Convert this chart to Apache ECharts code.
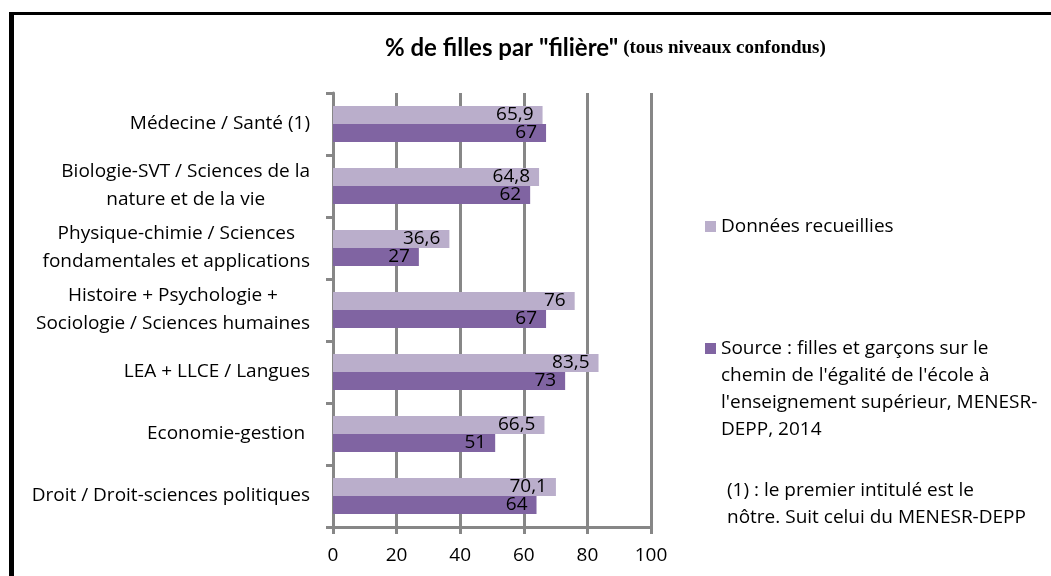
<!DOCTYPE html>
<html><head><meta charset="utf-8">
<script src="https://cdn.jsdelivr.net/npm/echarts@6/dist/echarts.min.js"></script>
<style>html,body{margin:0;padding:0;background:#fff}#c{width:1051px;height:576px}</style>
</head><body><div id="c"></div>
<script>
const categories = [
  'Médecine / Santé (1)',
  'Biologie-SVT / Sciences de la\nnature et de la vie',
  'Physique-chimie / Sciences\nfondamentales et applications',
  'Histoire + Psychologie +\nSociologie / Sciences humaines',
  'LEA + LLCE / Langues',
  'Economie-gestion ',
  'Droit / Droit-sciences politiques'
];
const seriesNames = [
  'Données recueillies',
  "Source : filles et garçons sur le chemin de l'égalité de l'école à l'enseignement supérieur, MENESR-DEPP, 2014"
];
const legendLines = [
  ['Données recueillies'],
  ['Source : filles et garçons sur le', "chemin de l'égalité de l'école à", "l'enseignement supérieur, MENESR-", 'DEPP, 2014']
];
const donneesRecueillies = [65.9, 64.8, 36.6, 76, 83.5, 66.5, 70.1];
const sourceMenesr = [67, 62, 27, 67, 73, 51, 64];
const xTicks = [0, 20, 40, 60, 80, 100];
const titleMain = '% de filles par "filière"';
const titleSub = '(tous niveaux confondus)';
const noteLines = ['(1) : le premier intitulé est le', 'nôtre. Suit celui du MENESR-DEPP'];

const FONT = '"Open Sans", sans-serif';
const FS = 19;
const GRID = '#878787';
const colors = ['#BAAECB', '#8064A2'];

const chart = echarts.init(document.getElementById('c'));
const labelCfg = {
  show: true, position: 'insideRight', distance: 9,
  color: '#000', fontFamily: FONT, fontSize: FS,
  formatter: p => String(p.value).replace('.', ',')
};
// Legend text: blank lines before so that the first text line sits beside the icon
const legendFmt = lines => '\n'.repeat(lines.length - 1) + lines.join('\n');
chart.setOption({
  animation: false,
  backgroundColor: '#fff',
  title: {
    left: 380, top: 31,
    text: '{a|' + titleMain + '} {b|' + titleSub + '}',
    textStyle: {
      rich: {
        a: { fontFamily: 'Lato, sans-serif', fontWeight: 'bold', fontSize: 24, color: '#000' },
        b: { fontFamily: '"Liberation Serif", serif', fontWeight: 'bold', fontSize: 19, color: '#000' }
      }
    }
  },
  grid: { left: 333, right: 400, top: 93, bottom: 49, containLabel: false },
  xAxis: {
    type: 'value', min: xTicks[0], max: xTicks[xTicks.length - 1], interval: xTicks[1] - xTicks[0],
    axisLine: { show: true, lineStyle: { color: GRID, width: 3 } },
    axisTick: { show: true, length: 7, lineStyle: { color: GRID, width: 3 } },
    splitLine: { show: true, lineStyle: { color: GRID, width: 3 } },
    axisLabel: { color: '#000', fontFamily: FONT, fontSize: FS, margin: 19 }
  },
  yAxis: {
    type: 'category', data: categories, inverse: true,
    axisLine: { show: true, lineStyle: { color: GRID, width: 3 } },
    axisTick: { show: true, length: 7, lineStyle: { color: GRID, width: 3 } },
    axisLabel: {
      color: '#000', margin: 23, align: 'right',
      formatter: v => v.split('\n').map(l => '{c|' + l + '}').join('\n'),
      rich: { c: { align: 'center', fontFamily: FONT, fontSize: FS, lineHeight: 28, color: '#000' } }
    }
  },
  legend: [
    {
      left: 705, top: 213, padding: 0, itemWidth: 11, itemHeight: 11, icon: 'rect',
      data: [seriesNames[0]],
      formatter: () => legendFmt(legendLines[0]),
      textStyle: { fontFamily: FONT, fontSize: FS, color: '#000', lineHeight: 27 }
    },
    {
      left: 705, top: 254, padding: 0, itemWidth: 11, itemHeight: 11, icon: 'rect',
      data: [seriesNames[1]],
      formatter: () => legendFmt(legendLines[1]),
      textStyle: { fontFamily: FONT, fontSize: FS, color: '#000', lineHeight: 27 }
    }
  ],
  graphic: [
    { type: 'rect', left: 9, top: 12, shape: { width: 5, height: 600 }, style: { fill: '#000' }, z: 100 },
    { type: 'rect', left: 9, top: 12, shape: { width: 1100, height: 3 }, style: { fill: '#000' }, z: 100 },
    {
      type: 'text', left: 727, top: 477,
      style: { text: noteLines.join('\n'), fontFamily: FONT, fontSize: FS, lineHeight: 27, fill: '#000' }
    }
  ],
  series: [
    { name: seriesNames[0], type: 'bar', data: donneesRecueillies, barWidth: 18, barGap: '0%',
      itemStyle: { color: colors[0] }, label: labelCfg },
    { name: seriesNames[1], type: 'bar', data: sourceMenesr, barWidth: 18, barGap: '0%',
      itemStyle: { color: colors[1] }, label: labelCfg }
  ]
});
</script></body></html>
